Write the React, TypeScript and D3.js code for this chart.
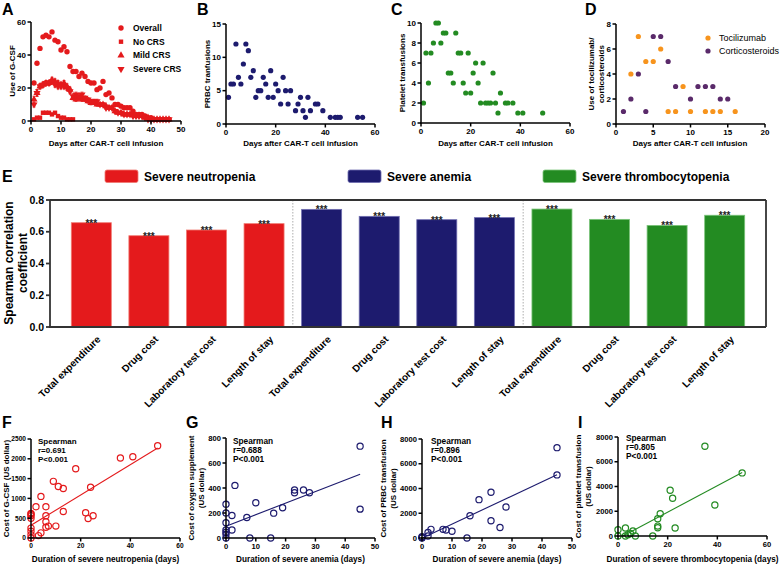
import React from 'react';
import * as d3 from 'd3';

const FONT = "Arial, 'Liberation Sans', Helvetica, sans-serif";
const RED = '#e41a1c';
const NAVY = '#1d1b6e';
const GREEN = '#238b22';
const ORANGE = '#f7941d';
const PURPLE = '#5a2a6a';

// ---- Panel A ----
const aDays = [1,2,3,4,5,6,7,8,9,10,11,12,13,14,15,16,17,18,19,20,21,22,23,24,25,26,27,28,29,30,31,32,33,34,35,36,37,38,39,40,41,42,43,44,45,46];
const aOverall = [23,35,44,51,52,51,54,49,48,43,45,42,33,30,30,27,29,27,24,23,23,19,20,24,16,17,14,10,10,9,8,8,8,6,4,4,4,3,2,2,1,1,1,1,1,1];
const aNoCRSDays = [1,2,3,4,5,6,7,8,9,10,11,12,13,14];
const aNoCRS = [1,2,2,5,5,5,4,5,3,2,2,1,1,1];
const aMild = [13,17,21,22,23,23,25,24,23,22,23,21,19,14,13,14,13,13,12,11,11,10,10,10,9,8,8,6,5,5,4,4,4,4,3,3,3,2,2,1,1,1,1,1,1,1];
const aMildErr = [2,2,1.5,1.5,1.5,1.5,1.5,1.5,1.5,1.5,1.5,1.5,1.5,1.2,1.2,1.2,1.2,1.2,1.2,1.2,1,1,1,1,1,1,1,1,0.8,0.8,0.8,0.8,0.8,0.8,0.6,0.6,0.6,0.6,0.5,0.5,0.5,0.5,0.5,0.5,0.5,0.5];
const aSevere = [10,17,21,22,23,23,24,22,21,21,21,20,18,15,16,15,16,14,13,12,12,12,10,10,8,8,8,6,5,5,4,4,4,3,3,3,3,2,1,1,1,1,1,1,1,1];
const aSevereErr = [1.5,2,1.5,1.5,1.5,1.5,1.5,1.5,1.5,1.5,1.5,1.5,1.5,1.5,1.5,1.5,1.5,1.2,1.2,1.2,1.2,1.2,1.2,1.2,1,1,1,1,0.8,0.8,0.8,0.8,0.8,0.8,0.8,0.8,0.8,0.6,0.5,0.5,0.5,0.5,0.5,0.5,0.5,0.5];
const aLegend = ['Overall', 'No CRS', 'Mild CRS', 'Severe CRS'];

// ---- Panel B ----
const bDays = [1,2,3,4,5,6,7,8,9,10,11,12,13,14,15,16,17,18,19,20,21,22,23,24,25,26,28,29,30,31,32,33,34,36,37,39,42,44,45,46,53,55];
const bPRBC = [4,6,6,12,7,6,9,12,11,7,8,4,5,5,7,6,4,8,4,6,5,3,7,5,3,5,2,3,4,2,1,4,2,3,3,2,1,1,1,1,1,1];

// ---- Panel C ----
const cDays = [1,2,3,4,5,6,7,8,9,10,11,12,13,14,15,16,17,18,19,20,21,22,23,24,25,26,27,28,29,30,31,32,34,35,37,39,41,49];
const cPlatelet = [2,7,4,7,8,10,10,8,9,9,5,5,4,9,7,7,4,3,7,3,5,6,4,2,6,2,2,2,5,2,1,3,2,2,2,1,1,1];

// ---- Panel D ----
const dTociDays = [3,2,4,5,6,7,8,9,10,12,13,14,16];
const dToci = [7,4,5,5,6,1,1,3,1,1,1,1,1];
const dCortDays = [1,2,3,4,5,6,7,8,10,11,12,13,14,15];
const dCort = [1,2,4,1,7,7,5,3,2,3,3,3,2,2];
const dLegend = ['Tocilizumab', 'Corticosteroids'];

// ---- Panel E ----
const eGroups = ['Severe neutropenia', 'Severe anemia', 'Severe thrombocytopenia'];
const eMeasures = ['Total expenditure', 'Drug cost', 'Laboratory test cost', 'Length of stay'];
const eNeutropenia = [0.657, 0.575, 0.611, 0.651];
const eAnemia = [0.741, 0.697, 0.676, 0.689];
const eThrombo = [0.743, 0.678, 0.640, 0.704];
const eYTicks = [0, 0.2, 0.4, 0.6, 0.8];

// ---- Panel F ----
const fX = [0,0,0,0,0,0,0,0,2,3,4,4,6,6,6,6,7,9,10,11,13,13,18,22,23,24,25,36,41,51];
const fY = [0,80,170,250,500,560,600,620,790,60,130,1050,790,560,410,270,300,1430,300,1300,1250,670,1750,640,490,1280,560,2020,2050,2330];
const fFit = [320, 38.3];
const fStats = ['Spearman', 'r=0.691', 'P<0.001'];

// ---- Panel G ----
const gX = [45,45,3,10,23,23,26,28,19,16,7,2,2,0,0,0,0,0,0,0,8,15];
const gY = [735,231,421,282,384,362,384,362,242,199,164,180,64,271,201,123,64,46,30,0,0,0];
const gFit = [94, 9.25];
const gStats = ['Spearman', 'r=0.688', 'P<0.001'];

// ---- Panel H ----
const hX = [45,45,23,19,28,16,23,26,3,7,8,10,2,2,15,0,0,0];
const hY = [7300,5100,3700,3100,2500,1800,1400,850,700,700,650,550,450,160,0,100,50,0];
const hFit = [-20, 114];
const hStats = ['Spearman', 'r=0.896', 'P<0.001'];

// ---- Panel I ----
const iX = [35,50,39,21,22,17,16,16,16,23,3,6,4,5,3,7,14,0,0];
const iY = [7250,5100,2500,3700,3050,1800,1400,800,670,650,650,400,110,200,0,0,0,510,0];
const iFit = [-214, 107];
const iStats = ['Spearman', 'r=0.805', 'P<0.001'];

type Lin = d3.ScaleLinear<number, number>;

function Axes({ xs, ys, xTicks, yTicks, fs = 8 }: { xs: Lin; ys: Lin; xTicks: number[]; yTicks: number[]; fs?: number }) {
  const [x0, x1] = xs.range();
  const [y0, y1] = ys.range();
  return (
    <g fontFamily={FONT} fontWeight="bold" fontSize={fs} fill="#000">
      <line x1={x0} x2={x0} y1={y0 + 0.75} y2={y1} stroke="#000" strokeWidth={1.5} />
      <line x1={x0 - 0.75} x2={x1} y1={y0} y2={y0} stroke="#000" strokeWidth={1.5} />
      {yTicks.map((t) => (
        <g key={'y' + t}>
          <line x1={x0 - 3.5} x2={x0} y1={ys(t)} y2={ys(t)} stroke="#000" strokeWidth={1.5} />
          <text x={x0 - 5} y={ys(t)} dy="0.35em" textAnchor="end">{t}</text>
        </g>
      ))}
      {xTicks.map((t) => (
        <g key={'x' + t}>
          <line x1={xs(t)} x2={xs(t)} y1={y0} y2={y0 + 3.5} stroke="#000" strokeWidth={1.5} />
          <text x={xs(t)} y={y0 + 5} dy="0.75em" textAnchor="middle">{t}</text>
        </g>
      ))}
    </g>
  );
}

function Letter({ x, y, t }: { x: number; y: number; t: string }) {
  return <text x={x} y={y} fontFamily={FONT} fontWeight="bold" fontSize={16}>{t}</text>;
}

function YTitle({ x, y, lines, fs = 8 }: { x: number; y: number; lines: string[]; fs?: number }) {
  return (
    <g fontFamily={FONT} fontWeight="bold" fontSize={fs}>
      {lines.map((l, i) => (
        <text key={i} transform={`translate(${x + i * (fs + 2)},${y}) rotate(-90)`} textAnchor="middle">{l}</text>
      ))}
    </g>
  );
}

function XTitle({ x, y, t, fs = 8 }: { x: number; y: number; t: string; fs?: number }) {
  return <text x={x} y={y} textAnchor="middle" fontFamily={FONT} fontWeight="bold" fontSize={fs}>{t}</text>;
}

const triUp = d3.symbol(d3.symbolTriangle, 22)()!;

function PanelA() {
  const xs = d3.scaleLinear().domain([0, 50]).range([31, 181]);
  const ys = d3.scaleLinear().domain([0, 60]).range([121, 22]);
  const errs = (vals: number[], err: number[], key: string) =>
    aDays.map((d, i) => {
      const x = xs(d);
      const ya = ys(vals[i] + err[i]);
      const yb = ys(Math.max(0, vals[i] - err[i]));
      return (
        <g key={key + i} stroke={RED} strokeWidth={0.8}>
          <line x1={x} x2={x} y1={ya} y2={yb} />
          <line x1={x - 1.5} x2={x + 1.5} y1={ya} y2={ya} />
          <line x1={x - 1.5} x2={x + 1.5} y1={yb} y2={yb} />
        </g>
      );
    });
  return (
    <g>
      <Letter x={2} y={15} t="A" />
      {errs(aMild, aMildErr, 'me')}
      {errs(aSevere, aSevereErr, 'se')}
      {aDays.map((d, i) => (
        <path key={'m' + i} d={triUp} transform={`translate(${xs(d)},${ys(aMild[i])})`} fill={RED} />
      ))}
      {aDays.map((d, i) => (
        <path key={'s' + i} d={triUp} transform={`translate(${xs(d)},${ys(aSevere[i])}) rotate(180)`} fill={RED} />
      ))}
      {aNoCRSDays.map((d, i) => (
        <rect key={'n' + i} x={xs(d) - 2.2} y={ys(aNoCRS[i]) - 2.2} width={4.4} height={4.4} fill={RED} />
      ))}
      {aDays.map((d, i) => (
        <circle key={'o' + i} cx={xs(d)} cy={ys(aOverall[i])} r={2.7} fill={RED} />
      ))}
      <Axes xs={xs} ys={ys} xTicks={[0, 10, 20, 30, 40, 50]} yTicks={[0, 20, 40, 60]} />
      <YTitle x={15} y={71} lines={['Use of G-CSF']} />
      <XTitle x={106} y={146} t="Days after CAR-T cell infusion" />
      <g fontFamily={FONT} fontWeight="bold" fontSize={8.5}>
        {aLegend.map((l, i) => {
          const cy = 28 + i * 13.7;
          const cx = 121;
          return (
            <g key={l}>
              {i === 0 && <circle cx={cx} cy={cy} r={2.7} fill={RED} />}
              {i === 1 && <rect x={cx - 2.2} y={cy - 2.2} width={4.4} height={4.4} fill={RED} />}
              {i === 2 && <path d={triUp} transform={`translate(${cx},${cy})`} fill={RED} />}
              {i === 3 && <path d={triUp} transform={`translate(${cx},${cy}) rotate(180)`} fill={RED} />}
              <text x={133} y={cy} dy="0.35em">{l}</text>
            </g>
          );
        })}
      </g>
    </g>
  );
}

function DotPanel({ letter, lx, xr, yr, xd, yd, xt, yt, xsData, ysData, color, ytitle, ytx }: any) {
  const xs = d3.scaleLinear().domain(xd).range(xr);
  const ys = d3.scaleLinear().domain(yd).range(yr);
  return (
    <g>
      <Letter x={lx} y={15} t={letter} />
      {xsData.map((d: number, i: number) => (
        <circle key={i} cx={xs(d)} cy={ys(ysData[i])} r={2.6} fill={color} />
      ))}
      <Axes xs={xs} ys={ys} xTicks={xt} yTicks={yt} />
      <YTitle x={ytx} y={(yr[0] + yr[1]) / 2} lines={ytitle} />
      <XTitle x={(xr[0] + xr[1]) / 2} y={146} t="Days after CAR-T cell infusion" />
    </g>
  );
}

function PanelD() {
  const xs = d3.scaleLinear().domain([0, 20]).range([616, 765]);
  const ys = d3.scaleLinear().domain([0, 8]).range([124, 24]);
  return (
    <g>
      <Letter x={585} y={15} t="D" />
      {dTociDays.map((d, i) => (
        <circle key={'t' + i} cx={xs(d)} cy={ys(dToci[i])} r={2.6} fill={ORANGE} />
      ))}
      {dCortDays.map((d, i) => (
        <circle key={'c' + i} cx={xs(d)} cy={ys(dCort[i])} r={2.6} fill={PURPLE} />
      ))}
      <Axes xs={xs} ys={ys} xTicks={[0, 5, 10, 15, 20]} yTicks={[0, 2, 4, 6, 8]} />
      <YTitle x={594} y={74} lines={['Use of tocilizumab/', 'corticosteroids']} />
      <XTitle x={690} y={146} t="Days after CAR-T cell infusion" />
      <g fontFamily={FONT} fontSize={9}>
        {dLegend.map((l, i) => (
          <g key={l}>
            <circle cx={708} cy={38 + i * 13} r={2.6} fill={i === 0 ? ORANGE : PURPLE} />
            <text x={719} y={38 + i * 13} dy="0.35em">{l}</text>
          </g>
        ))}
      </g>
    </g>
  );
}

function PanelE() {
  const keys: string[] = [];
  const vals: number[] = [];
  const cols: string[] = [];
  const strokes: string[] = [];
  const series = [eNeutropenia, eAnemia, eThrombo];
  const colors = [RED, NAVY, GREEN];
  const light = ['#f07a72', '#6f6db0', '#7bc47a'];
  series.forEach((s, g) =>
    s.forEach((v, j) => {
      keys.push(g + '-' + j);
      vals.push(v);
      cols.push(colors[g]);
      strokes.push(light[g]);
    })
  );
  const xb = d3.scaleBand<string>().domain(keys).range([50, 766]).paddingInner(0.305).paddingOuter(0.37);
  const ys = d3.scaleLinear().domain([0, 0.8]).range([327, 200]);
  const legendX = [105, 348, 543];
  return (
    <g fontFamily={FONT}>
      <Letter x={2} y={182} t="E" />
      {eGroups.map((g, i) => (
        <g key={g}>
          <rect x={legendX[i]} y={170} width={33} height={12.5} rx={2} fill={colors[i]} stroke={light[i]} strokeWidth={0.8} />
          <text x={legendX[i] + 39} y={181} fontWeight="bold" fontSize={12}>{g}</text>
        </g>
      ))}
      {keys.map((k, i) => {
        const x = xb(k)!;
        const y = ys(vals[i]);
        return (
          <g key={k}>
            <rect x={x} y={y} width={xb.bandwidth()} height={ys(0) - y} fill={cols[i]} stroke={strokes[i]} strokeWidth={0.8} />
            <text x={x + xb.bandwidth() / 2} y={y + 4} textAnchor="middle" fontSize={10} fontWeight="bold" fill="#222">***</text>
          </g>
        );
      })}
      {[1, 2].map((g) => {
        const xa = xb(keys[g * 4 - 1])! + xb.bandwidth();
        const xc = xb(keys[g * 4])!;
        const xm = (xa + xc) / 2;
        return <line key={g} x1={xm} x2={xm} y1={200} y2={327} stroke="#999" strokeWidth={0.8} strokeDasharray="1.5,1.5" />;
      })}
      <line x1={50} x2={766} y1={200} y2={200} stroke="#333" strokeWidth={1.8} />
      <line x1={766} x2={766} y1={200} y2={327} stroke="#333" strokeWidth={1.8} />
      <line x1={50} x2={50} y1={327.9} y2={200} stroke="#333" strokeWidth={1.8} />
      <line x1={49.1} x2={766} y1={327} y2={327} stroke="#333" strokeWidth={1.8} />
      {eYTicks.map((t) => (
        <g key={t}>
          <line x1={46} x2={50} y1={ys(t)} y2={ys(t)} stroke="#333" strokeWidth={1.8} />
          <text x={44} y={ys(t)} dy="0.35em" textAnchor="end" fontWeight="bold" fontSize={10.5}>{t.toFixed(1)}</text>
        </g>
      ))}
      {keys.map((k, i) => {
        const cx = xb(k)! + xb.bandwidth() / 2;
        return (
          <text key={'l' + k} transform={`translate(${cx + 5},${335}) rotate(-45)`} textAnchor="end" dy="0.7em" fontWeight="bold" fontSize={10}>
            {eMeasures[i % 4]}
          </text>
        );
      })}
      <g fontWeight="bold" fontSize={12}>
        <text transform={`translate(13,263) rotate(-90)`} textAnchor="middle">Spearman correlation</text>
        <text transform={`translate(27,263) rotate(-90)`} textAnchor="middle">coefficient</text>
      </g>
    </g>
  );
}

function ScatterPanel({ letter, lx, xr, yr, xd, yd, xt, yt, px, py, fit, stats, color, ytitle, ytx, xtitle, sx, sy, tfs = 8, sfs = 8.3 }: any) {
  const xs = d3.scaleLinear().domain(xd).range(xr);
  const ys = d3.scaleLinear().domain(yd).range(yr);
  const xmax = d3.max(px as number[])!;
  const xmin = Math.max(0, -fit[0] / fit[1]);
  return (
    <g>
      <Letter x={lx} y={428} t={letter} />
      <line x1={xs(xmin)} y1={ys(fit[0] + fit[1] * xmin)} x2={xs(xmax)} y2={ys(fit[0] + fit[1] * xmax)} stroke={color} strokeWidth={1.1} />
      {px.map((d: number, i: number) => (
        <circle key={i} cx={xs(d)} cy={ys(py[i])} r={3.1} fill="none" stroke={color} strokeWidth={1.2} />
      ))}
      <Axes xs={xs} ys={ys} xTicks={xt} yTicks={yt} fs={tfs} />
      <YTitle x={ytx} y={(yr[0] + yr[1]) / 2} lines={ytitle} />
      <XTitle x={(xr[0] + xr[1]) / 2} y={562} t={xtitle} fs={8.2} />
      <g fontFamily={FONT} fontWeight="bold" fontSize={sfs}>
        {stats.map((s: string, i: number) => (
          <text key={s} x={sx} y={sy + i * 9.2}>{s}</text>
        ))}
      </g>
    </g>
  );
}

export default function App() {
  return (
    <svg width={782} height={565} style={{ position: 'absolute', left: 0, top: 0, background: '#fff' }}>
      <rect width={782} height={565} fill="#fff" />
      <PanelA />
      <DotPanel letter="B" lx={197} xr={[226, 375]} yr={[124, 24]} xd={[0, 60]} yd={[0, 15]} xt={[0, 20, 40, 60]} yt={[0, 5, 10, 15]}
        xsData={bDays} ysData={bPRBC} color={NAVY} ytitle={['PRBC tranfusions']} ytx={210} />
      <DotPanel letter="C" lx={391} xr={[421, 570]} yr={[123, 23]} xd={[0, 60]} yd={[0, 10]} xt={[0, 20, 40, 60]} yt={[0, 2, 4, 6, 8, 10]}
        xsData={cDays} ysData={cPlatelet} color={GREEN} ytitle={['Platelet transfusions']} ytx={405} />
      <PanelD />
      <PanelE />
      <ScatterPanel letter="F" lx={2} xr={[31, 180]} yr={[538, 439]} xd={[0, 60]} yd={[0, 2500]} xt={[0, 20, 40, 60]} yt={[0, 500, 1000, 1500, 2000, 2500]}
        px={fX} py={fY} fit={fFit} stats={fStats} color={RED} ytitle={['Cost of G-CSF (US dollar)']} ytx={9} xtitle="Duration of severe neutropenia (days)" sx={38} sy={444} tfs={6.6} sfs={8} />
      <ScatterPanel letter="G" lx={186} xr={[226, 375]} yr={[538, 438]} xd={[0, 50]} yd={[0, 800]} xt={[0, 10, 20, 30, 40, 50]} yt={[0, 200, 400, 600, 800]}
        px={gX} py={gY} fit={gFit} stats={gStats} color={NAVY} ytitle={['Cost of oxygen supplement', '(US dollar)']} ytx={194} xtitle="Duration of severe anemia (days)" sx={233} sy={444} tfs={7.6} />
      <ScatterPanel letter="H" lx={381} xr={[422, 572]} yr={[538, 439]} xd={[0, 50]} yd={[0, 8000]} xt={[0, 10, 20, 30, 40, 50]} yt={[0, 2000, 4000, 6000, 8000]}
        px={hX} py={hY} fit={hFit} stats={hStats} color={NAVY} ytitle={['Cost of PRBC transfusion', '(US dollar)']} ytx={386} xtitle="Duration of severe anemia (days)" sx={431} sy={444} tfs={7.6} />
      <ScatterPanel letter="I" lx={578} xr={[618, 767]} yr={[536, 437]} xd={[0, 60]} yd={[0, 8000]} xt={[0, 20, 40, 60]} yt={[0, 2000, 4000, 6000, 8000]}
        px={iX} py={iY} fit={iFit} stats={iStats} color={GREEN} ytitle={['Cost of platelet transfusion', '(US dollar)']} ytx={581} xtitle="Duration of severe thrombocytopenia (days)" sx={626} sy={441} tfs={7.6} />
    </svg>
  );
}
